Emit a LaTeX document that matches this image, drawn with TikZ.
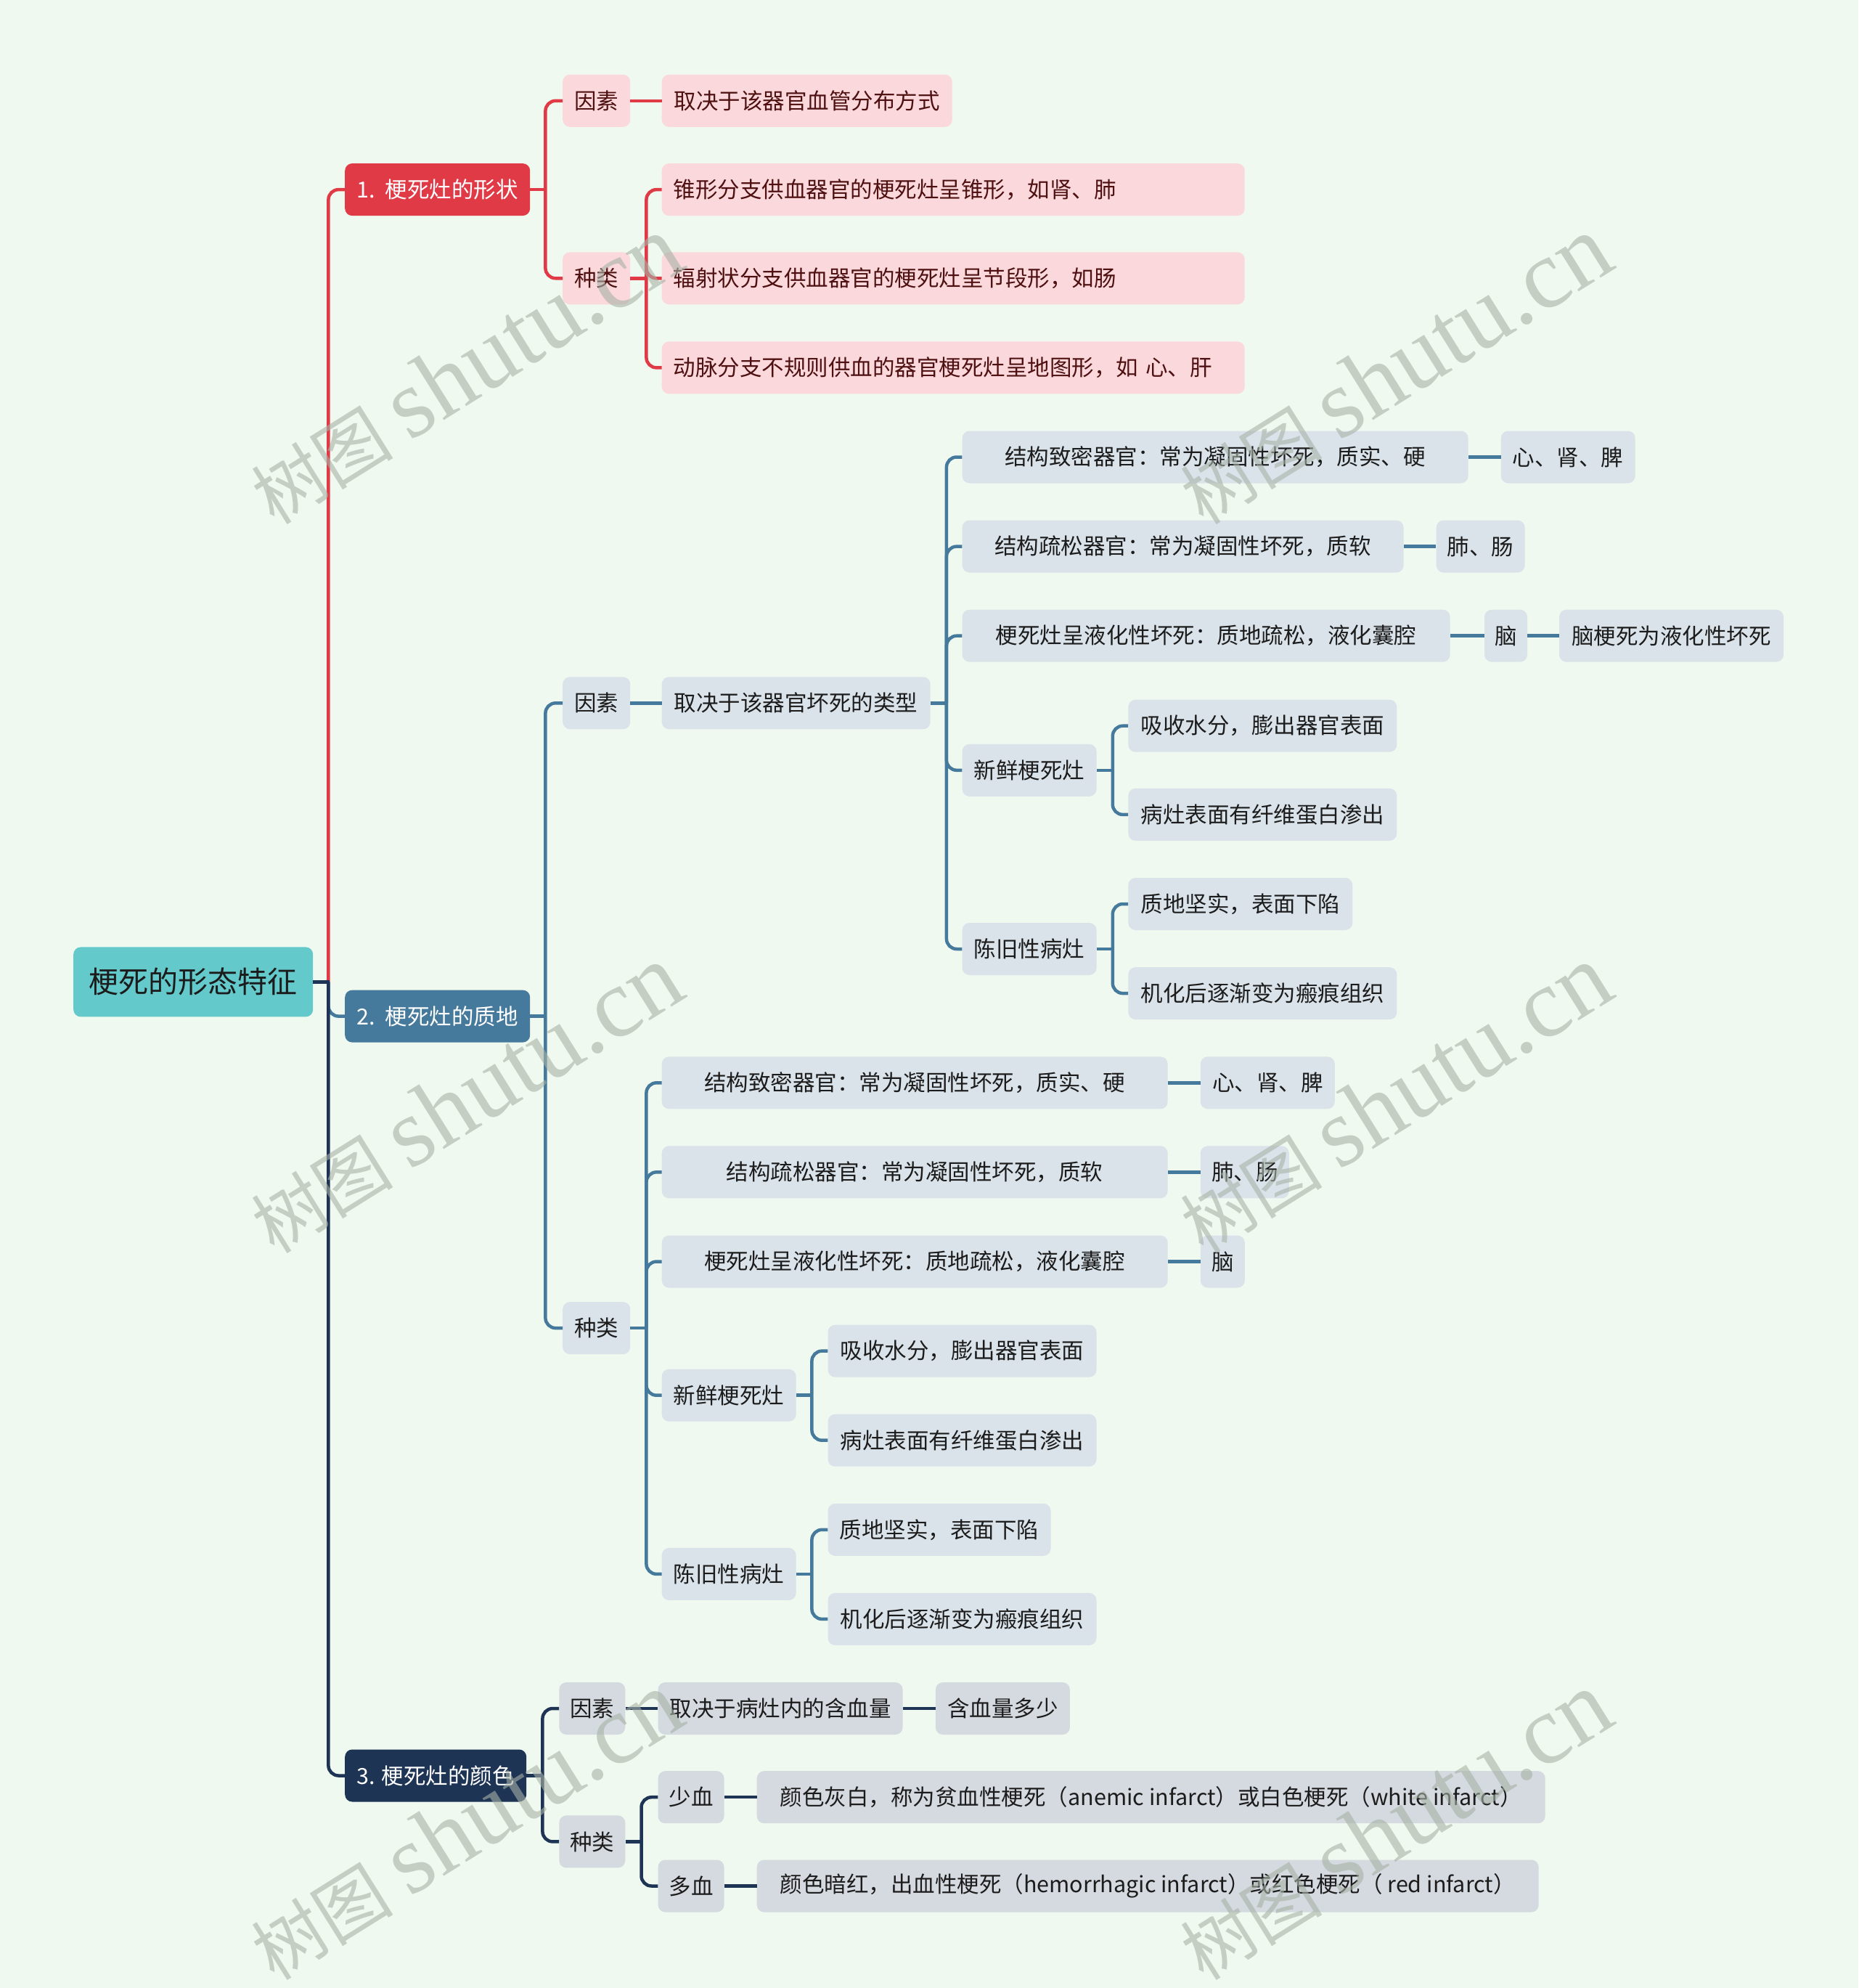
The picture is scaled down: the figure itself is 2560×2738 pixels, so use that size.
\documentclass[tikz,border=0pt]{standalone}
\usepackage{fontspec}
\setmainfont{Noto Sans CJK SC}
\newfontfamily\wmlat{Liberation Serif}
\newfontfamily\wmcjk{Noto Sans CJK SC}
\definecolor{bgc}{HTML}{F0F9EF}
\definecolor{rootc}{HTML}{63C9CB}
\definecolor{redc}{HTML}{E13A47}
\definecolor{pinkc}{HTML}{FAD8DB}
\definecolor{pinktxt}{HTML}{4E1010}
\definecolor{bluec}{HTML}{467A9C}
\definecolor{bluel}{HTML}{DAE3EA}
\definecolor{navyc}{HTML}{1E3454}
\definecolor{navyl}{HTML}{D5D9E0}
\definecolor{darktxt}{HTML}{1C1C1C}
\definecolor{wmc}{HTML}{A7B2A7}
\tikzset{
  base/.style={anchor=west, rounded corners=10, minimum height=72, inner sep=0,
    font=\fontsize{30.5}{36}\selectfont},
  rootbox/.style={base, fill=rootc, text=darktxt, minimum height=96, font=\fontsize{41}{48}\selectfont},
  redbox/.style={base, fill=redc, text=white},
  bluebox/.style={base, fill=bluec, text=white},
  navybox/.style={base, fill=navyc, text=white},
  pinkbox/.style={base, fill=pinkc, text=pinktxt},
  pinkleaf/.style={pinkbox, text width=771, inner xsep=16, align=left},
  lblue/.style={base, fill=bluel, text=darktxt},
  lnavy/.style={base, fill=navyl, text=darktxt},
  rline/.style={draw=redc, line width=4.5},
  bline/.style={draw=bluec, line width=4.5},
  nline/.style={draw=navyc, line width=4.5},
  rc/.style={rounded corners=14},
  wm/.style={text=wmc, opacity=0.6, rotate=32, inner sep=0}
}
\begin{document}
\begin{tikzpicture}[x=1pt,y=-1pt]
\fill[bgc] (0,0) rectangle (2560,2738);
\useasboundingbox (0,0) rectangle (2560,2738);

% root and level 1
\node[rootbox, minimum width=330] (root) at (101,1352.4) {梗死的形态特征};
\node[redbox, minimum width=255] (b1) at (475,261.1) {1.\ \ 梗死灶的形状};
\node[bluebox, minimum width=255] (b2) at (475,1399.6) {2.\ \ 梗死灶的质地};
\node[navybox, minimum width=250] (b3) at (475,2445.5) {3. 梗死灶的颜色};

% branch 1
\node[pinkbox, minimum width=93] (f1) at (775,138.8) {因素};
\node[pinkbox, minimum width=400] (f1a) at (911.5,138.8) {取决于该器官血管分布方式};
\node[pinkbox, minimum width=93] (k1) at (775,383.3) {种类};
\node[pinkleaf] (l1) at (911.5,261.1) {锥形分支供血器官的梗死灶呈锥形，如肾、肺};
\node[pinkleaf] (l2) at (911.5,383.3) {辐射状分支供血器官的梗死灶呈节段形，如肠};
\node[pinkleaf] (l3) at (911.5,506.4) {动脉分支不规则供血的器官梗死灶呈地图形，如 心、肝};

% branch 2 - factor
\node[lblue, minimum width=93] (f2) at (775,968.3) {因素};
\node[lblue, minimum width=370] (f2a) at (911.5,968.3) {取决于该器官坏死的类型};
\node[lblue, minimum width=697] (d1) at (1325.4,629.5) {结构致密器官：常为凝固性坏死，质实、硬};
\node[lblue, minimum width=185] (d1a) at (2067.5,629.5) {心、肾、脾};
\node[lblue, minimum width=608] (d2) at (1325.4,752.6) {结构疏松器官：常为凝固性坏死，质软};
\node[lblue, minimum width=122] (d2a) at (1978.4,752.6) {肺、肠};
\node[lblue, minimum width=672] (d3) at (1325.4,875.7) {梗死灶呈液化性坏死：质地疏松，液化囊腔};
\node[lblue, minimum width=59] (d3a) at (2044.8,875.7) {脑};
\node[lblue, minimum width=309] (d3b) at (2147.8,875.7) {脑梗死为液化性坏死};
\node[lblue, minimum width=185] (d4) at (1325.4,1060.8) {新鲜梗死灶};
\node[lblue, minimum width=370] (e1) at (1554.1,999.7) {吸收水分，膨出器官表面};
\node[lblue, minimum width=370] (e2) at (1554.1,1121.9) {病灶表面有纤维蛋白渗出};
\node[lblue, minimum width=185] (d5) at (1325.4,1307.0) {陈旧性病灶};
\node[lblue, minimum width=309] (e3) at (1554.1,1245.0) {质地坚实，表面下陷};
\node[lblue, minimum width=370] (e4) at (1554.1,1368.1) {机化后逐渐变为瘢痕组织};

% branch 2 - kinds
\node[lblue, minimum width=93] (k2) at (775,1829.1) {种类};
\node[lblue, minimum width=697] (g1) at (911.5,1491.3) {结构致密器官：常为凝固性坏死，质实、硬};
\node[lblue, minimum width=185] (g1a) at (1653.6,1491.3) {心、肾、脾};
\node[lblue, minimum width=697] (g2) at (911.5,1614.3) {结构疏松器官：常为凝固性坏死，质软};
\node[lblue, minimum width=122] (g2a) at (1653.6,1614.3) {肺、肠};
\node[lblue, minimum width=697] (g3) at (911.5,1737.5) {梗死灶呈液化性坏死：质地疏松，液化囊腔};
\node[lblue, minimum width=61] (g3a) at (1653.6,1737.5) {脑};
\node[lblue, minimum width=185] (g4) at (911.5,1921.7) {新鲜梗死灶};
\node[lblue, minimum width=370] (h1) at (1140.3,1860.6) {吸收水分，膨出器官表面};
\node[lblue, minimum width=370] (h2) at (1140.3,1983.7) {病灶表面有纤维蛋白渗出};
\node[lblue, minimum width=185] (g5) at (911.5,2167.9) {陈旧性病灶};
\node[lblue, minimum width=307] (h3) at (1140.3,2106.8) {质地坚实，表面下陷};
\node[lblue, minimum width=370] (h4) at (1140.3,2229.9) {机化后逐渐变为瘢痕组织};

% branch 3
\node[lnavy, minimum width=91] (f3) at (770.1,2353.0) {因素};
\node[lnavy, minimum width=337] (f3a) at (906.3,2353.0) {取决于病灶内的含血量};
\node[lnavy, minimum width=185] (f3b) at (1288.7,2353.0) {含血量多少};
\node[lnavy, minimum width=91] (k3) at (770.1,2536.4) {种类};
\node[lnavy, minimum width=91] (s1) at (906.3,2475.2) {少血};
\node[lnavy, minimum width=1086] (s1a) at (1042.5,2475.2) {颜色灰白，称为贫血性梗死（anemic infarct）或白色梗死（white infarct）};
\node[lnavy, minimum width=91] (s2) at (906.3,2597.5) {多血};
\node[lnavy, minimum width=1077] (s2a) at (1042.5,2597.5) {颜色暗红，出血性梗死（hemorrhagic infarct）或红色梗死（ red infarct）};

% trunk connectors
\draw[bline,rc] (root.east) ++(21,0) |- (b2.west);
\draw[rline,rc] (root.east) ++(21,0) |- (b1.west);
\draw[nline] (root.east) -- ++(23,0);
\draw[nline,rc] (root.east) ++(21,0) |- (b3.west);

% branch 1 connectors
\draw[rline] (b1.east) -- ++(23,0);
\draw[rline,rc] (b1.east) ++(21,0) |- (f1.west);
\draw[rline,rc] (b1.east) ++(21,0) |- (k1.west);
\draw[rline] (f1.east) -- (f1a.west);
\draw[rline] (k1.east) -- ++(24,0);
\draw[rline,rc] (k1.east) ++(22,0) |- (l1.west);
\draw[rline,rc] (k1.east) ++(22,0) |- (l2.west);
\draw[rline,rc] (k1.east) ++(22,0) |- (l3.west);

% branch 2 connectors
\draw[bline] (b2.east) -- ++(23,0);
\draw[bline,rc] (b2.east) ++(21,0) |- (f2.west);
\draw[bline,rc] (b2.east) ++(21,0) |- (k2.west);
\draw[bline] (f2.east) -- (f2a.west);
\draw[bline] (f2a.east) -- ++(24,0);
\foreach \n in {d1,d2,d3,d4,d5} \draw[bline,rc] (f2a.east) ++(22,0) |- (\n.west);
\draw[bline] (d1.east) -- (d1a.west);
\draw[bline] (d2.east) -- (d2a.west);
\draw[bline] (d3.east) -- (d3a.west);
\draw[bline] (d3a.east) -- (d3b.west);
\draw[bline] (d4.east) -- ++(24,0);
\foreach \n in {e1,e2} \draw[bline,rc] (d4.east) ++(22,0) |- (\n.west);
\draw[bline] (d5.east) -- ++(24,0);
\foreach \n in {e3,e4} \draw[bline,rc] (d5.east) ++(22,0) |- (\n.west);

\draw[bline] (k2.east) -- ++(24,0);
\foreach \n in {g1,g2,g3,g4,g5} \draw[bline,rc] (k2.east) ++(22,0) |- (\n.west);
\draw[bline] (g1.east) -- (g1a.west);
\draw[bline] (g2.east) -- (g2a.west);
\draw[bline] (g3.east) -- (g3a.west);
\draw[bline] (g4.east) -- ++(23,0);
\foreach \n in {h1,h2} \draw[bline,rc] (g4.east) ++(21.5,0) |- (\n.west);
\draw[bline] (g5.east) -- ++(23,0);
\foreach \n in {h3,h4} \draw[bline,rc] (g5.east) ++(21.5,0) |- (\n.west);

% branch 3 connectors
\draw[nline] (b3.east) -- ++(24,0);
\draw[nline,rc] (b3.east) ++(22,0) |- (f3.west);
\draw[nline,rc] (b3.east) ++(22,0) |- (k3.west);
\draw[nline] (f3.east) -- (f3a.west);
\draw[nline] (f3a.east) -- (f3b.west);
\draw[nline] (k3.east) -- ++(24,0);
\draw[nline,rc] (k3.east) ++(22,0) |- (s1.west);
\draw[nline,rc] (k3.east) ++(22,0) |- (s2.west);
\draw[nline] (s1.east) -- (s1a.west);
\draw[nline] (s2.east) -- (s2a.west);

% watermarks
\foreach \wx/\wy [count=\i] in {641/510, 1921/510, 641/1514, 1921/1514, 641/2515, 1921/2515}
  \node[wm] (wm\i) at (\wx,\wy) {{\wmcjk\fontsize{98}{100}\selectfont 树图}\hspace{24pt}{\wmlat\fontsize{135}{140}\selectfont shutu.cn}};
\end{tikzpicture}
\end{document}
